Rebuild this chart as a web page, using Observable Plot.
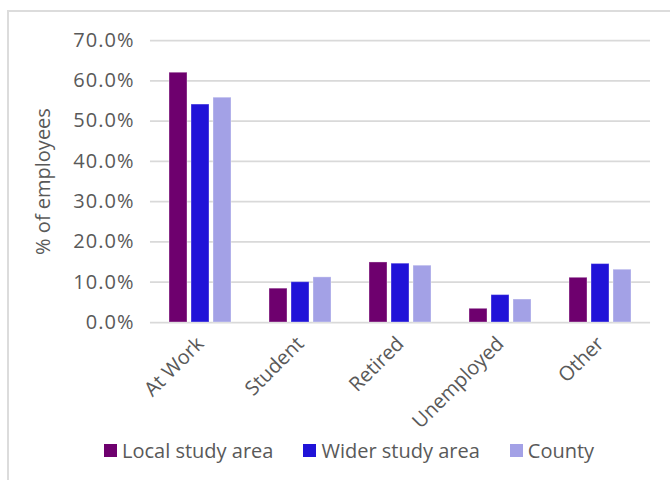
<!DOCTYPE html>
<html>
<head>
<meta charset="utf-8">
<script src="https://cdn.jsdelivr.net/npm/d3@7"></script>
<script src="https://cdn.jsdelivr.net/npm/@observablehq/plot@0.6"></script>
<style>
  html, body { margin: 0; padding: 0; background: #fff; width: 670px; height: 480px; overflow: hidden; }
  body { position: relative; font-family: "Open Sans", "Noto Sans", sans-serif; }
  #frame { position: absolute; left: 7px; top: 10px; width: 700px; height: 500px; border: 2px solid #dcdcdc; box-sizing: border-box; }
  #chart { position: absolute; left: 0; top: 0; }
  #chart g[aria-label="y-axis tick label"] text { letter-spacing: 1px; }
  #legend { position: absolute; left: 104px; top: 437px; display: flex; align-items: center; gap: 30px; font-size: 20px; color: #595959; }
  #legend .item { display: flex; align-items: center; gap: 5px; }
  #legend .sw { width: 13px; height: 13px; display: inline-block; }
</style>
</head>
<body>
<div id="frame"></div>
<div id="chart"></div>
<div id="legend"></div>
<script>
const categories = ["At Work", "Student", "Retired", "Unemployed", "Other"];
const seriesNames = ["Local study area", "Wider study area", "County"];
const seriesColors = ["#6e006e", "#2013d8", "#a3a1e6"];
const localValues = [0.620, 0.084, 0.149, 0.034, 0.111];
const widerValues = [0.541, 0.100, 0.146, 0.068, 0.145];
const countyValues = [0.558, 0.112, 0.141, 0.057, 0.131];
const yTicks = [0, 0.1, 0.2, 0.3, 0.4, 0.5, 0.6, 0.7];

const seriesValues = [localValues, widerValues, countyValues];
const data = [];
categories.forEach((c, i) => {
  seriesNames.forEach((s, j) => data.push({category: c, series: s, value: seriesValues[j][i]}));
});

const textColor = "#595959";
const W = 670, ML = 149, MR = 20;
const padIn = 0.38, padOut = 0.19;
const step = (W - ML - MR) / (categories.length - padIn + 2 * padOut);
const gridExtend = -padOut * step; // extend gridlines across the gaps between facets
const facetOffset = padOut * step;  // first facet starts this far right of the plot's left edge

const chart = Plot.plot({
  width: W,
  height: 480,
  marginTop: 40,
  marginBottom: 158,
  marginLeft: ML,
  marginRight: MR,
  style: { fontFamily: "'Open Sans', 'Noto Sans', sans-serif", color: textColor, background: "transparent" },
  fx: { domain: categories, paddingInner: padIn, paddingOuter: padOut, axis: null },
  x: { domain: seriesNames, paddingInner: 0.195, paddingOuter: 0, axis: null },
  y: { domain: [0, 0.7], axis: null },
  color: { domain: seriesNames, range: seriesColors },
  marks: [
    Plot.ruleY(yTicks, { stroke: "#d9d9d9", strokeWidth: 1.75, insetLeft: gridExtend, insetRight: gridExtend }),
    Plot.barY(data, {
      fx: "category", x: "series", y: "value", fill: "series",
      stroke: "white", strokeOpacity: 0.35, strokeWidth: 1
    }),
    Plot.axisY(yTicks, {
      tickFormat: d3.format(".1%"), tickSize: 0, tickPadding: 16 + facetOffset,
      fontSize: 20, fill: textColor,
      label: "% of employees", labelAnchor: "center", labelArrow: "none", labelOffset: 115 + facetOffset
    }),
    Plot.axisFx({
      anchor: "bottom", tickRotate: -45, tickSize: 0, tickPadding: 18,
      fontSize: 20, fill: textColor, label: null
    })
  ]
});
document.getElementById("chart").appendChild(chart);

const legend = document.getElementById("legend");
seriesNames.forEach((s, i) => {
  const item = document.createElement("div");
  item.className = "item";
  const sw = document.createElement("span");
  sw.className = "sw";
  sw.style.background = seriesColors[i];
  const label = document.createElement("span");
  label.textContent = s;
  item.appendChild(sw);
  item.appendChild(label);
  legend.appendChild(item);
});
</script>
</body>
</html>
